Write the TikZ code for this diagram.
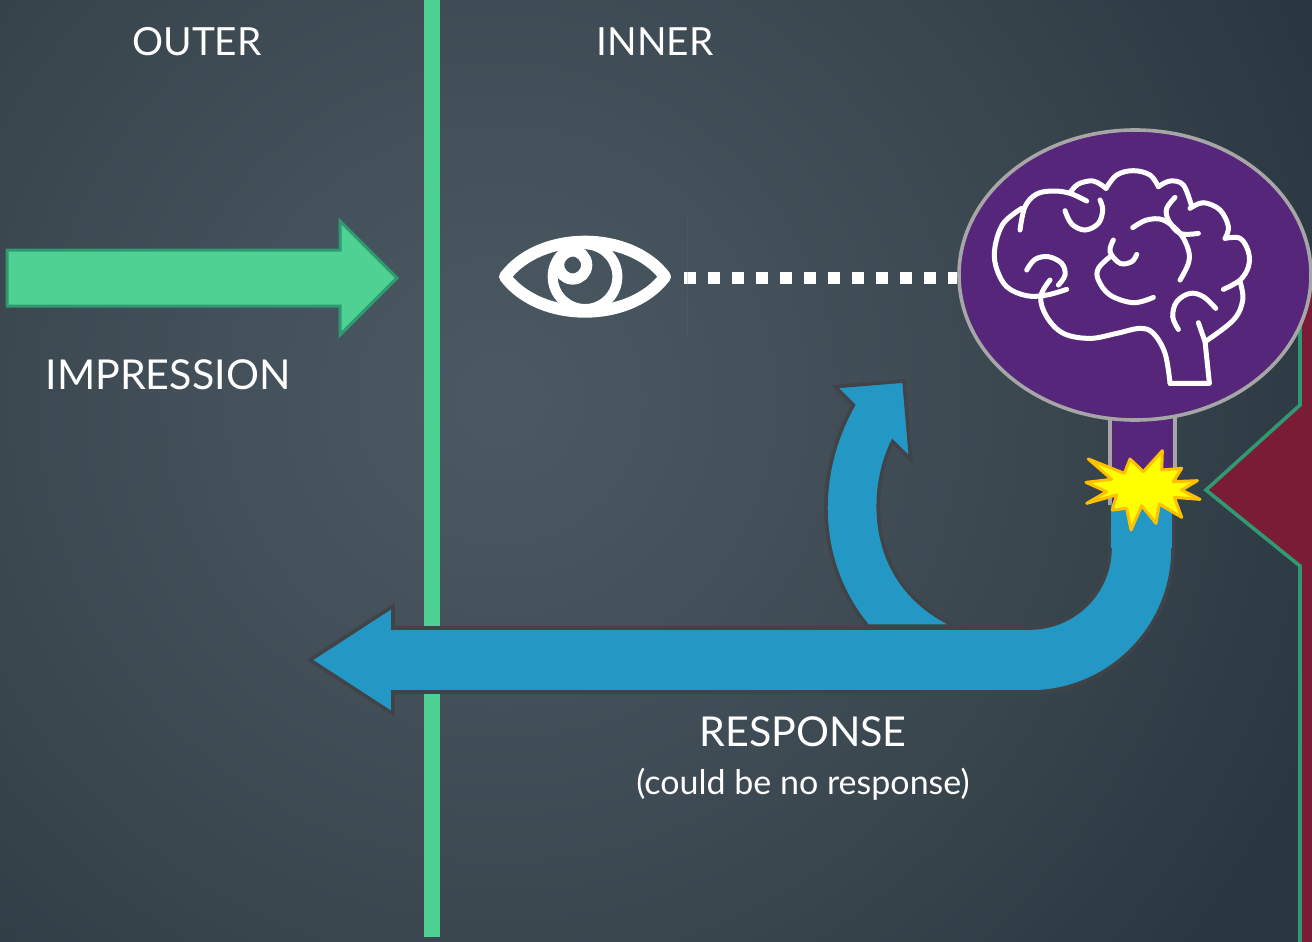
\documentclass[tikz,border=0pt]{standalone}
\usepackage{fontspec}
\setmainfont{Lato}
\usetikzlibrary{calc,positioning,shapes.geometric}
\definecolor{bgin}{HTML}{4A5963}
\definecolor{bgmida}{HTML}{435059}
\definecolor{bgmidb}{HTML}{37444C}
\definecolor{bgout}{HTML}{2A3640}
\definecolor{greenfill}{HTML}{4FD193}
\definecolor{greenline}{HTML}{2F9A72}
\definecolor{bluefill}{HTML}{2398C4}
\definecolor{blueline}{HTML}{404348}
\definecolor{purplefill}{HTML}{55267A}
\definecolor{grayline}{HTML}{A6A6A6}
\definecolor{redfill}{HTML}{7B1C36}
\definecolor{burstfill}{HTML}{FFFF00}
\definecolor{burstline}{HTML}{FFC000}
\pgfdeclareradialshading{slidebg}{\pgfpointorigin}{color(0bp)=(bgin); color(7bp)=(bgmida); color(14.5bp)=(bgmidb); color(21.5bp)=(bgout); color(50bp)=(bgout)}
\tikzset{
    label top/.style={text=white, font=\fontsize{19.4}{24}\selectfont},
    label big/.style={text=white, font=\fontsize{20.6}{24}\selectfont},
    label small/.style={text=white, font=\fontsize{17}{20}\selectfont},
    green band/.style={fill=greenfill, draw=none},
    green arrow/.style={fill=greenfill, draw=greenline, line width=1.5pt},
    blue arrow/.style={fill=bluefill, draw=blueline, line width=1.8pt, line join=miter},
    stem/.style={fill=purplefill, draw=none},
    stem side/.style={draw=grayline, line width=1.8pt},
    brain circle/.style={
        ellipse,
        fill=purplefill,
        draw=grayline, line width=1.8pt,
        minimum width=176pt,
        minimum height=145pt,
        inner sep=0pt
    },
    brain line/.style={draw=white, line width=2.5pt, line cap=round, line join=round},
    eye line/.style={draw=white, line cap=round, line join=round},
    white dots/.style={draw=white, line width=6pt, dash pattern=on 6pt off 6pt},
    burst/.style={fill=burstfill, draw=burstline, line width=1.5pt, line join=round},
    red wall/.style={fill=redfill, draw=greenline, line width=1.8pt}
}
\begin{document}
\begin{tikzpicture}[x=0.5pt,y=-0.5pt]
    \useasboundingbox (0,0) rectangle (1312,942);
    \begin{scope}
        \clip (0,0) rectangle (1312,942);
        \shade[shading=slidebg] (500,400) circle (1050);
        % wall on the right
        \draw[red wall] (1330,280) -- (1300,280) -- (1300,405) -- (1206,490) -- (1300,566) -- (1300,960) -- (1330,960) -- cycle;
    \end{scope}

    \fill[green band] (424,0) rectangle (440,937);
    \draw[green arrow] (7,250) -- (340,250) -- (340,221) -- (397,278) -- (340,335) -- (340,306) -- (7,306) -- cycle;

    \node[label top] (outer) at (197,42) {OUTER};
    \node[label top] (inner) at (655,42) {INNER};
    \node[label big] (impression) at (168,375) {IMPRESSION};
    \node[label big] (response) at (803,732) {RESPONSE};
    \node[label small] (no response) at (803,784) {(could be no response)};

    % stem under the brain
    \fill[stem] (1110,410) rectangle (1175,505);
    \draw[stem side] (1110,410) -- (1110,505);
    \draw[stem side] (1175,410) -- (1175,505);

    \node[brain circle] (brain) at (1135,275) {};
    \node[minimum width=88pt, minimum height=42pt, inner sep=0pt] (eye) at (585,278) {};
    \draw[white dots] ($(eye.east)+(11,0)$) -- (eye.east -| brain.west);
    \draw[black!60, opacity=0.25, line width=0.4pt] (687,215) -- (687,340);

    % eye
    \begin{scope}[shift={(480,210)},x=0.1667pt,y=-0.1667pt]
        \draw[eye line, line width=6pt] (75,200) .. controls (180,60) and (450,60) .. (555,200) .. controls (450,340) and (180,340) .. cycle;
        \draw[eye line, line width=5pt] (315,200) circle (97);
        \draw[eye line, line width=5.6pt] (278,165) circle (42);
    \end{scope}

    % curved arrow
    \begin{scope}[shift={(800,370)},x=0.1667pt,y=-0.1667pt]
        \draw[blue arrow] (203,768) .. controls (55,590) and (35,330) .. (160,105) -- (105,50) -- (312,33) -- (332,268) -- (278,215) .. controls (210,350) and (190,640) .. (465,768) -- cycle;
    \end{scope}

    % big arrow
    \draw[blue arrow] (1110,505) -- (1110,548) arc (0:90:80) -- (393,628) -- (393,606) -- (310,660) -- (393,714) -- (393,692) -- (1030,692) arc (90:0:143) -- (1173,505);
    \fill[bluefill] (1111,503) rectangle (1172,548);

    % burst
    \begin{scope}[shift={(1080,440)},x=0.1667pt,y=-0.1667pt]
        \draw[burst] (25,57) -- (133,100) -- (150,57) -- (190,95) -- (247,32) -- (245,90) -- (305,85) -- (280,125) -- (352,122) -- (305,150) -- (360,178) -- (283,172) -- (305,232) -- (238,192) -- (228,250) -- (185,197) -- (153,270) -- (140,205) -- (97,210) -- (110,165) -- (20,190) -- (80,155) -- (18,127) -- (95,118) -- cycle;
    \end{scope}

    % brain drawing
    \begin{scope}[shift={(950,120)},x=0.1667pt,y=-0.1667pt]
        \draw[brain line] plot[smooth,tension=0.6] coordinates {(350,508) (290,525) (230,527) (170,500) (138,440) (135,380) (160,310) (215,265)};
        \draw[brain line] plot[smooth,tension=0.6] coordinates {(210,330) (225,260) (260,222) (310,213) (360,220) (410,243)};
        \draw[brain line] plot[smooth,tension=0.6] coordinates {(360,218) (385,192) (430,183) (468,205)};
        \draw[brain line] plot[smooth,tension=0.6] coordinates {(468,205) (500,165) (550,152) (600,165) (625,200)};
        \draw[brain line] plot[smooth,tension=0.6] coordinates {(625,200) (660,183) (700,195) (725,260)};
        \draw[brain line] plot[smooth,tension=0.6] coordinates {(720,265) (760,248) (810,270) (835,320) (825,355)};
        \draw[brain line] plot[smooth,tension=0.6] coordinates {(825,355) (870,355) (895,395) (895,440) (870,480) (820,508)};
        \draw[brain line] plot[smooth,tension=0.6] coordinates {(870,485) (878,540) (850,600) (765,665)};
        \draw[brain line] (745,608) -- (765,665) -- (778,790) -- (660,790);
        \draw[brain line] plot[smooth,tension=0.6] coordinates {(660,790) (645,700) (610,640) (570,625) (500,640) (420,655) (340,640) (290,590) (272,530) (300,480)};
        \draw[brain line] plot[smooth,tension=0.6] coordinates {(230,450) (255,418) (295,410) (335,430) (345,465) (325,495)};
        \draw[brain line] plot[smooth,tension=0.6] coordinates {(345,272) (365,312) (405,330) (445,310) (458,270) (450,240)};
        \draw[brain line] plot[smooth,tension=0.6] coordinates {(675,232) (650,265) (655,300) (690,340) (745,340)};
        \draw[brain line] plot[smooth,tension=0.6] coordinates {(548,323) (590,300) (640,300) (690,340) (715,390) (715,430) (690,480)};
        \draw[brain line] plot[smooth,tension=0.6] coordinates {(490,360) (480,395) (510,430) (545,425) (560,403)};
        \draw[brain line] plot[smooth,tension=0.6] coordinates {(480,410) (445,445) (445,480) (480,525) (550,548) (610,532)};
        \draw[brain line] plot[smooth,tension=0.6] coordinates {(685,628) (668,590) (680,545) (720,520) (760,530) (797,565)};
    \end{scope}
\end{tikzpicture}
\end{document}
